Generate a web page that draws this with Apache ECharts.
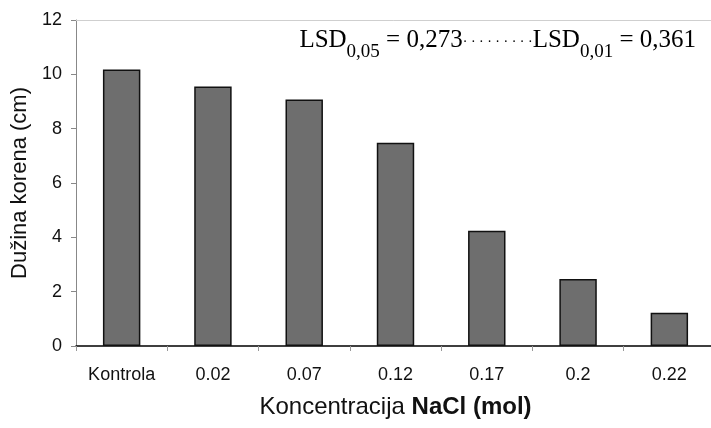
<!DOCTYPE html>
<html>
<head>
<meta charset="utf-8">
<script src="https://cdn.jsdelivr.net/npm/echarts@6/dist/echarts.min.js"></script>
<style>
  html, body { margin: 0; padding: 0; background: #fff; }
  #chart { width: 711px; height: 428px; }
</style>
</head>
<body>
<div id="chart"></div>
<script>
// kategorije (koncentracija NaCl)
const categories = ['Kontrola', '0.02', '0.07', '0.12', '0.17', '0.2', '0.22']
// duzina korena u cm
const rootLength = [10.18, 9.55, 9.07, 7.48, 4.24, 2.47, 1.22]
// podeoci y ose
const yMin = 0
const yMax = 12
const yStep = 2

const sans = 'Liberation Sans, Arial, sans-serif'
const serif = 'Liberation Serif, Times New Roman, serif'

const myChart = echarts.init(document.getElementById('chart'))
const option = {
  animation: false,
  backgroundColor: '#fff',
  grid: { left: 76, right: -4, top: 20, bottom: 82, containLabel: false, outerBoundsMode: 'none' },
  xAxis: [
    {
      type: 'category',
      data: categories,
      axisLine: { lineStyle: { color: '#000', width: 1.5 } },
      axisTick: { show: true, alignWithLabel: false, length: 5, lineStyle: { color: '#999' } },
      axisLabel: { color: '#111', fontFamily: sans, fontSize: 18, margin: 20 },
      name: '{n|Koncentracija }{b|NaCl (mol)}',
      nameLocation: 'middle',
      nameGap: 49,
      nameTextStyle: {
        rich: {
          n: { fontFamily: sans, fontSize: 24, color: '#111' },
          b: { fontFamily: sans, fontSize: 24, fontWeight: 'bold', color: '#111' }
        }
      }
    },
    {
      // gornja ivica
      type: 'category',
      position: 'top',
      data: categories,
      axisLine: { show: true, lineStyle: { color: '#cfcfcf', width: 1 } },
      axisTick: { show: false },
      axisLabel: { show: false }
    }
  ],
  yAxis: {
    type: 'value',
    min: yMin,
    max: yMax,
    interval: yStep,
    axisLine: { show: true, lineStyle: { color: '#888', width: 1 } },
    axisTick: { show: true, length: 5, lineStyle: { color: '#888' } },
    splitLine: { show: false },
    axisLabel: { color: '#111', fontFamily: sans, fontSize: 18, margin: 14 },
    name: 'Dužina korena (cm)',
    nameLocation: 'middle',
    nameGap: 44,
    nameTextStyle: { fontFamily: sans, fontSize: 22, color: '#111' }
  },
  series: [
    {
      type: 'bar',
      data: rootLength,
      barWidth: '41%',
      itemStyle: { color: '#6e6e6e', borderColor: '#111', borderWidth: 1.5 }
    }
  ],
  graphic: [
    {
      type: 'text',
      right: 15,
      top: 28,
      style: {
        text: '{t|LSD}{s|0,05}{t| = 0,273}{d|· · · · · · · · ·}{t|LSD}{s|0,01}{t| = 0,361}',
        rich: {
          t: { fontFamily: serif, fontSize: 25, color: '#111', verticalAlign: 'bottom', lineHeight: 28, padding: [0, 0, 9, 0] },
          s: { fontFamily: serif, fontSize: 19, color: '#111', verticalAlign: 'bottom', lineHeight: 22 },
          d: { fontFamily: serif, fontSize: 14, color: '#222', verticalAlign: 'bottom', lineHeight: 14, padding: [0, 0, 13, 0] }
        }
      }
    }
  ]
}
myChart.setOption(option, true)
</script>
</body>
</html>
